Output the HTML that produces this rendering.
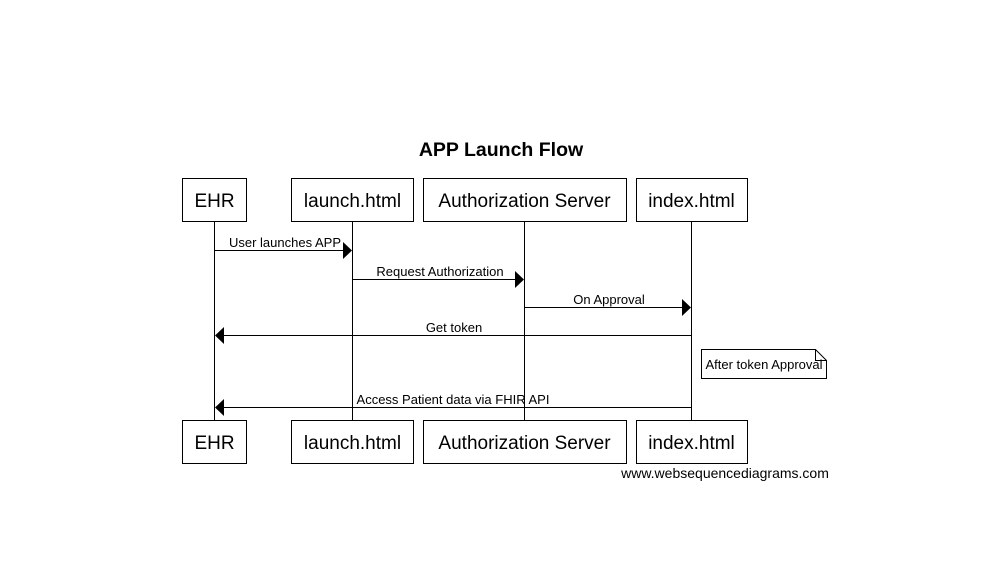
<!DOCTYPE html>
<html><head><style>body{margin:0;background:#fff}</style></head><body>
<svg width="1002" height="568" xmlns="http://www.w3.org/2000/svg" font-family="Liberation Sans, sans-serif">
<rect width="1002" height="568" fill="#fff"/>
<text x="501" y="156" text-anchor="middle" font-size="19.5" font-weight="bold">APP Launch Flow</text>
<g stroke="#000" stroke-width="1" fill="none">
<line x1="214.5" y1="222" x2="214.5" y2="420"/>
<line x1="352.5" y1="222" x2="352.5" y2="420"/>
<line x1="524.5" y1="222" x2="524.5" y2="420"/>
<line x1="691.5" y1="222" x2="691.5" y2="420"/>
<g fill="#fff">
<rect x="182.5" y="178.5" width="64" height="43"/>
<rect x="291.5" y="178.5" width="122" height="43"/>
<rect x="423.5" y="178.5" width="203" height="43"/>
<rect x="636.5" y="178.5" width="111" height="43"/>
<rect x="182.5" y="420.5" width="64" height="43"/>
<rect x="291.5" y="420.5" width="122" height="43"/>
<rect x="423.5" y="420.5" width="203" height="43"/>
<rect x="636.5" y="420.5" width="111" height="43"/>
</g>
<line x1="214" y1="250.5" x2="343" y2="250.5"/>
<line x1="352" y1="279.5" x2="515" y2="279.5"/>
<line x1="524" y1="307.5" x2="682" y2="307.5"/>
<line x1="224" y1="335.5" x2="691" y2="335.5"/>
<line x1="224" y1="407.5" x2="691" y2="407.5"/>
<path d="M701.5 349.5 H815.5 L826.5 360.5 V378.5 H701.5 Z M815.5 349.5 V360.5 H826.5" fill="#fff"/>
</g>
<g fill="#000">
<path d="M343 242 L352 250.5 L343 259 Z"/>
<path d="M515 271 L524 279.5 L515 288 Z"/>
<path d="M682 299 L691 307.5 L682 316 Z"/>
<path d="M224 327 L215 335.5 L224 344 Z"/>
<path d="M224 399 L215 407.5 L224 416 Z"/>
</g>
<g font-size="19" text-anchor="middle">
<text x="214.5" y="207">EHR</text><text x="352.5" y="207">launch.html</text>
<text x="524.5" y="207">Authorization Server</text><text x="691.5" y="207">index.html</text>
<text x="214.5" y="449">EHR</text><text x="352.5" y="449">launch.html</text>
<text x="524.5" y="449">Authorization Server</text><text x="691.5" y="449">index.html</text>
</g>
<g font-size="13" text-anchor="middle">
<text x="285" y="247">User launches APP</text>
<text x="440" y="276">Request Authorization</text>
<text x="609" y="304">On Approval</text>
<text x="454" y="332">Get token</text>
<text x="453" y="404">Access Patient data via FHIR API</text>
<text x="764" y="369">After token Approval</text>
<text x="725" y="478" font-size="14">www.websequencediagrams.com</text>
</g>
</svg>
</body></html>
